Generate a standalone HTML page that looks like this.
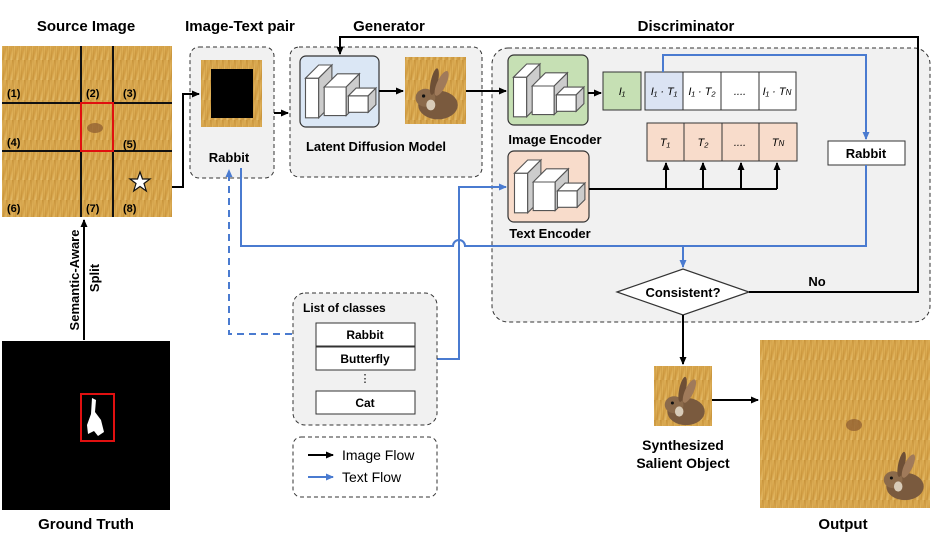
<!DOCTYPE html>
<html><head><meta charset="utf-8"><style>
html,body{margin:0;padding:0;background:#fff}
svg{display:block}
text{font-family:"Liberation Sans",Arial,sans-serif}
.b{font-weight:bold}
</style></head><body>
<svg width="938" height="552" viewBox="0 0 938 552" xmlns="http://www.w3.org/2000/svg">
<defs>
<marker id="ak" markerWidth="8" markerHeight="8" refX="7" refY="4" orient="auto" markerUnits="userSpaceOnUse"><path d="M0,0.5 L8,4 L0,7.5 Z" fill="#000"/></marker>
<marker id="ab" markerWidth="8" markerHeight="8" refX="7" refY="4" orient="auto" markerUnits="userSpaceOnUse"><path d="M0,0.5 L8,4 L0,7.5 Z" fill="#4a7bd0"/></marker>
<linearGradient id="wheat" x1="0" y1="0" x2="1" y2="1">
<stop offset="0" stop-color="#c9933a"/><stop offset="0.4" stop-color="#e0b25a"/><stop offset="0.7" stop-color="#d19c42"/><stop offset="1" stop-color="#e6c072"/></linearGradient>
<pattern id="straw" width="6" height="20" patternUnits="userSpaceOnUse"><rect width="6" height="20" fill="url(#wheat)"/><path d="M1,0 L2,20 M4,0 L3.5,20" stroke="#b8832e" stroke-width="0.6" opacity="0.5"/></pattern>
<g id="rab">
<ellipse cx="0" cy="10" rx="22" ry="16" fill="#7a5a3e"/>
<ellipse cx="-14" cy="2" rx="11" ry="10" fill="#8b6a4b"/>
<ellipse cx="-4" cy="-16" rx="4" ry="15" fill="#6e4f36" transform="rotate(12 -4 -16)"/>
<ellipse cx="4" cy="-14" rx="5" ry="15" fill="#a07a5a" transform="rotate(25 4 -14)"/>
<circle cx="-16" cy="0" r="1.8" fill="#111"/>
<ellipse cx="-8" cy="10" rx="5" ry="6" fill="#d8cbb8"/>
</g>
<g id="cube">
<path d="M5,22 L5,58 L17,58 L17,22 Z" fill="#fff" stroke="#555"/>
<path d="M5,22 L17,10 L29,10 L17,22 Z" fill="#fff" stroke="#555"/>
<path d="M17,22 L29,10 L29,46 L17,58 Z" fill="#ccc" stroke="#555"/>
<path d="M22,30 L22,56 L42,56 L42,30 Z" fill="#fff" stroke="#555"/>
<path d="M22,30 L34,18 L54,18 L42,30 Z" fill="#fff" stroke="#555"/>
<path d="M42,30 L54,18 L54,44 L42,56 Z" fill="#ccc" stroke="#555"/>
<path d="M44,38 L44,53 L62,53 L62,38 Z" fill="#fff" stroke="#555"/>
<path d="M44,38 L51,31 L69,31 L62,38 Z" fill="#fff" stroke="#555"/>
<path d="M62,38 L69,31 L69,46 L62,53 Z" fill="#ccc" stroke="#555"/>
</g>
</defs>

<text x="86" y="31" font-size="15" class="b" text-anchor="middle">Source Image</text>
<text x="240" y="31" font-size="15" class="b" text-anchor="middle">Image-Text pair</text>
<text x="389" y="31" font-size="15" class="b" text-anchor="middle">Generator</text>
<text x="686" y="31" font-size="15" class="b" text-anchor="middle">Discriminator</text>

<rect x="2" y="46" width="170" height="171" fill="url(#straw)"/>
<g stroke="#111" stroke-width="2"><line x1="81" y1="46" x2="81" y2="217"/><line x1="113" y1="46" x2="113" y2="217"/><line x1="2" y1="103" x2="172" y2="103"/><line x1="2" y1="151" x2="172" y2="151"/></g>
<rect x="81" y="103" width="32" height="48" fill="none" stroke="#e01010" stroke-width="2"/>
<ellipse cx="95" cy="128" rx="8" ry="5" fill="#8a5a30" opacity="0.7"/>
<g font-size="11" class="b"><text x="7" y="97">(1)</text><text x="86" y="97">(2)</text><text x="123" y="97">(3)</text><text x="7" y="146">(4)</text><text x="123" y="148">(5)</text><text x="7" y="212">(6)</text><text x="86" y="212">(7)</text><text x="123" y="212">(8)</text></g>
<path d="M140,172 L142.5,179 L150,179 L144,183.5 L146.3,191 L140,186.5 L133.7,191 L136,183.5 L130,179 L137.5,179 Z" fill="#fff" stroke="#111" stroke-width="1.2"/>

<rect x="2" y="341" width="168" height="169" fill="#000"/>
<rect x="81" y="394" width="33" height="47" fill="none" stroke="#e01010" stroke-width="2"/>
<path d="M92,398 L96,400 L95,412 L101,420 L104,432 L98,436 L94,431 L88,434 L87,425 L91,414 Z" fill="#fff"/>
<text x="86" y="529" font-size="15" class="b" text-anchor="middle">Ground Truth</text>

<line x1="84" y1="340" x2="84" y2="220" stroke="#000" stroke-width="2" marker-end="url(#ak)"/>
<text transform="translate(79,280) rotate(-90)" font-size="13" class="b" text-anchor="middle">Semantic-Aware</text>
<text transform="translate(99,278) rotate(-90)" font-size="13" class="b" text-anchor="middle">Split</text>

<rect x="190" y="47" width="84" height="131" rx="9" fill="#f1f1f1" stroke="#333" stroke-dasharray="4,3"/>
<rect x="201" y="60" width="61" height="67" fill="url(#straw)"/>
<rect x="211" y="69" width="42" height="49" fill="#000"/>
<text x="229" y="162" font-size="13" class="b" text-anchor="middle">Rabbit</text>

<rect x="290" y="47" width="192" height="130" rx="9" fill="#f1f1f1" stroke="#333" stroke-dasharray="4,3"/>
<rect x="300" y="56" width="79" height="71" rx="6" fill="#dbe7f5" stroke="#333" stroke-width="1.2"/>
<use href="#cube" transform="translate(300 54) scale(1.1)"/>
<rect x="405" y="57" width="61" height="67" fill="url(#straw)"/>
<use href="#rab" transform="translate(438 96) scale(0.9)"/>
<text x="376" y="151" font-size="13" class="b" text-anchor="middle">Latent Diffusion Model</text>

<rect x="492" y="48" width="438" height="274" rx="16" fill="#f1f1f1" stroke="#333" stroke-dasharray="4,3"/>
<rect x="508" y="55" width="80" height="70" rx="6" fill="#c6e0b4" stroke="#333" stroke-width="1.2"/>
<use href="#cube" transform="translate(508 53) scale(1.1)"/>
<text x="555" y="144" font-size="13" class="b" text-anchor="middle">Image Encoder</text>
<rect x="508" y="151" width="81" height="71" rx="6" fill="#f8dccb" stroke="#333" stroke-width="1.2"/>
<use href="#cube" transform="translate(509 149) scale(1.1)"/>
<text x="550" y="238" font-size="13" class="b" text-anchor="middle">Text Encoder</text>

<rect x="603" y="72" width="38" height="38" fill="#c6e0b4" stroke="#333"/>
<g font-style="italic" font-size="11">
<text x="622" y="95" text-anchor="middle" font-family="Liberation Serif">I₁</text>
<rect x="645" y="72" width="38" height="38" fill="#dbe3f3" stroke="#333"/>
<rect x="683" y="72" width="38" height="38" fill="#fff" stroke="#333"/>
<rect x="721" y="72" width="38" height="38" fill="#fff" stroke="#333"/>
<rect x="759" y="72" width="37" height="38" fill="#fff" stroke="#333"/>
<text x="664" y="95" text-anchor="middle" font-family="Liberation Serif">I₁ · T₁</text>
<text x="702" y="95" text-anchor="middle" font-family="Liberation Serif">I₁ · T₂</text>
<text x="740" y="95" text-anchor="middle" font-family="Liberation Serif">....</text>
<text x="777" y="95" text-anchor="middle" font-family="Liberation Serif">I₁ · T<tspan font-size="8">N</tspan></text>
<rect x="647" y="123" width="37" height="38" fill="#f8dccb" stroke="#333"/>
<rect x="684" y="123" width="38" height="38" fill="#f8dccb" stroke="#333"/>
<rect x="722" y="123" width="37" height="38" fill="#f8dccb" stroke="#333"/>
<rect x="759" y="123" width="38" height="38" fill="#f8dccb" stroke="#333"/>
<text x="665" y="146" text-anchor="middle" font-family="Liberation Serif">T₁</text>
<text x="703" y="146" text-anchor="middle" font-family="Liberation Serif">T₂</text>
<text x="740" y="146" text-anchor="middle" font-family="Liberation Serif">....</text>
<text x="778" y="146" text-anchor="middle" font-family="Liberation Serif">T<tspan font-size="8">N</tspan></text>
</g>
<rect x="828" y="141" width="77" height="24" fill="#fff" stroke="#333"/>
<text x="866" y="158" font-size="13" class="b" text-anchor="middle">Rabbit</text>

<path d="M617,292 L683,269 L749,292 L683,315 Z" fill="#fff" stroke="#333" stroke-width="1.2"/>
<text x="683" y="297" font-size="13" class="b" text-anchor="middle">Consistent?</text>
<text x="817" y="286" font-size="13" class="b" text-anchor="middle">No</text>

<g stroke="#000" stroke-width="2" fill="none">
<path d="M172,187 L183,187 L183,94 L199,94" marker-end="url(#ak)"/>
<path d="M274,113 L288,113" marker-end="url(#ak)"/>
<path d="M379,91 L403,91" marker-end="url(#ak)"/>
<path d="M466,91 L506,91" marker-end="url(#ak)"/>
<path d="M588,93 L601,93" marker-end="url(#ak)"/>
<path d="M589,189 L777,189"/>
<path d="M666,189 L666,163" marker-end="url(#ak)"/>
<path d="M703,189 L703,163" marker-end="url(#ak)"/>
<path d="M741,189 L741,163" marker-end="url(#ak)"/>
<path d="M777,189 L777,163" marker-end="url(#ak)"/>
<path d="M749,292 L918,292 L918,37 L340,37 L340,54" marker-end="url(#ak)"/>
<path d="M683,315 L683,364" marker-end="url(#ak)"/>
<path d="M712,400 L758,400" marker-end="url(#ak)"/>
</g>

<g stroke="#4a7bd0" stroke-width="2" fill="none">
<path d="M663,72 L663,55 L866,55 L866,139" marker-end="url(#ab)"/>
<path d="M866,165 L866,246 L465,246 A6,6 0 0 0 453,246 L241,246 L241,168"/>
<path d="M683,246 L683,267" marker-end="url(#ab)"/>
<path d="M415,359 L459,359 L459,187 L506,187" marker-end="url(#ab)"/>
<path d="M316,334 L229,334 L229,170" stroke-dasharray="7,5" marker-end="url(#ab)"/>
</g>

<rect x="293" y="293" width="144" height="132" rx="12" fill="#f1f1f1" stroke="#333" stroke-dasharray="4,3"/>
<text x="303" y="312" font-size="12" class="b">List of classes</text>
<rect x="316" y="323" width="99" height="23" fill="#fff" stroke="#333"/>
<text x="365" y="339" font-size="12" class="b" text-anchor="middle">Rabbit</text>
<rect x="316" y="347" width="99" height="23" fill="#fff" stroke="#333"/>
<text x="365" y="363" font-size="12" class="b" text-anchor="middle">Butterfly</text>
<text x="365" y="382" font-size="11" text-anchor="middle">⋮</text>
<rect x="316" y="391" width="99" height="23" fill="#fff" stroke="#333"/>
<text x="365" y="407" font-size="12" class="b" text-anchor="middle">Cat</text>

<rect x="293" y="437" width="144" height="60" rx="8" fill="#fff" stroke="#333" stroke-dasharray="4,3"/>
<line x1="308" y1="455" x2="333" y2="455" stroke="#000" stroke-width="2" marker-end="url(#ak)"/>
<text x="342" y="460" font-size="14">Image Flow</text>
<line x1="308" y1="477" x2="333" y2="477" stroke="#4a7bd0" stroke-width="2" marker-end="url(#ab)"/>
<text x="342" y="482" font-size="14">Text Flow</text>

<rect x="654" y="366" width="58" height="60" fill="url(#straw)"/>
<use href="#rab" transform="translate(686 403) scale(0.85)"/>
<text x="683" y="450" font-size="14" class="b" text-anchor="middle">Synthesized</text>
<text x="683" y="468" font-size="14" class="b" text-anchor="middle">Salient Object</text>

<rect x="760" y="340" width="170" height="168" fill="url(#straw)"/>
<ellipse cx="854" cy="425" rx="8" ry="6" fill="#8a5a30" opacity="0.7"/>
<use href="#rab" transform="translate(905 478) scale(0.85)"/>
<text x="843" y="529" font-size="15" class="b" text-anchor="middle">Output</text>
</svg>
</body></html>
